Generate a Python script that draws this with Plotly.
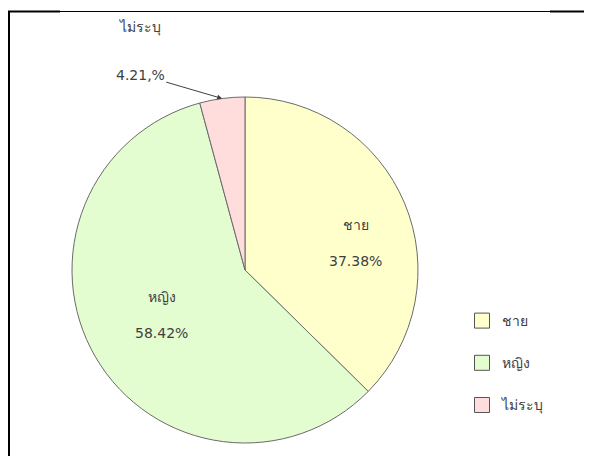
import math
import plotly.graph_objects as go

labels = ["ชาย", "หญิง", "ไม่ระบุ"]
values = [37.38, 58.42, 4.21]
value_text = ["37.38%", "58.42%", "4.21,%"]
colors = ["#FFFFCC", "#E3FCD0", "#FFDDDD"]

# page has an 8px body margin: figure sized to fit the 592x456 window
W, H = 584, 448
FONT = "'DejaVu Sans', Tahoma, 'Noto Sans', sans-serif"
TXT = "#404040"
FS = 14

# pie placement (paper fractions)
dom_x = [64 / W, 410 / W]
dom_y = [1 - 435 / H, 1 - 89 / H]

fig = go.Figure()
fig.add_trace(go.Pie(
    labels=labels,
    values=values,
    sort=False,
    direction="clockwise",
    rotation=0,
    marker=dict(colors=colors, line=dict(color="#6b6b6b", width=1)),
    textinfo="none",
    domain=dict(x=dom_x, y=dom_y),
    showlegend=False,
    hoverinfo="label+value",
))

# legend entries (one group per slice for spacing)
for lab, col in zip(labels, colors):
    fig.add_trace(go.Scatter(
        x=[None], y=[None], mode="markers", name=lab, legendgroup=lab,
        marker=dict(symbol="square", size=15, color=col, line=dict(color="#555555", width=1)),
        hoverinfo="skip",
    ))

total = sum(values)
cx = (dom_x[0] + dom_x[1]) / 2
cy = (dom_y[0] + dom_y[1]) / 2
r_px = (dom_x[1] - dom_x[0]) * W / 2


def rim_point(angle_deg, frac):
    return (cx + frac * r_px * math.sin(math.radians(angle_deg)) / W,
            cy + frac * r_px * math.cos(math.radians(angle_deg)) / H)


# mid angles of each slice (clockwise from 12 o'clock)
mids = []
acc = 0.0
for v in values:
    mids.append((acc + v / 2) / total * 360)
    acc += v

# inside labels for the two large slices
label_frac = [0.66, 0.55]
label_shift = [9, 2]
for i in range(2):
    lx, ly = rim_point(mids[i] + label_shift[i], label_frac[i])
    fig.add_annotation(
        x=lx, y=ly, xref="paper", yref="paper", xanchor="center", yanchor="middle",
        text=f"{labels[i]}<br><br>{value_text[i]}", showarrow=False,
        font=dict(family=FONT, size=FS, color=TXT),
    )

# outside label for the small slice, pointing to its middle on the rim
tip_x, tip_y = rim_point(mids[2], 1.0)
fig.add_annotation(
    x=tip_x, y=tip_y, xref="paper", yref="paper", xanchor="center", yanchor="middle",
    text=value_text[2], showarrow=True, arrowhead=2, arrowsize=1, arrowwidth=1,
    arrowcolor="#404040", ax=-82, ay=-24, axref="pixel", ayref="pixel",
    font=dict(family=FONT, size=FS, color=TXT),
)
fig.add_annotation(
    x=132 / W, y=1 - 19 / H, xref="paper", yref="paper", xanchor="center", yanchor="middle",
    text=labels[2], showarrow=False,
    font=dict(family=FONT, size=FS, color=TXT),
)

# frame lines
ytop = 1 - 3.5 / H
fig.add_shape(type="line", xref="paper", yref="paper", x0=0, x1=1, y0=ytop, y1=ytop,
              line=dict(color="black", width=1))
fig.add_shape(type="line", xref="paper", yref="paper", x0=0, x1=52 / W, y0=ytop, y1=ytop,
              line=dict(color="black", width=2))
fig.add_shape(type="line", xref="paper", yref="paper", x0=542 / W, x1=1, y0=ytop, y1=ytop,
              line=dict(color="black", width=2))
fig.add_shape(type="line", xref="paper", yref="paper", x0=1 / W, x1=1 / W, y0=0, y1=1 - 3 / H,
              line=dict(color="black", width=2))

fig.update_layout(
    width=W, height=H,
    margin=dict(l=0, r=0, t=0, b=0),
    paper_bgcolor="white", plot_bgcolor="white",
    xaxis=dict(visible=False), yaxis=dict(visible=False),
    font=dict(family=FONT, size=FS, color=TXT),
    legend=dict(x=454 / W, y=1 - 297 / H, xanchor="left", yanchor="top",
                tracegroupgap=21, font=dict(family=FONT, size=FS, color=TXT),
                itemwidth=30, bgcolor="rgba(0,0,0,0)"),
)

fig.write_html("out.html")
